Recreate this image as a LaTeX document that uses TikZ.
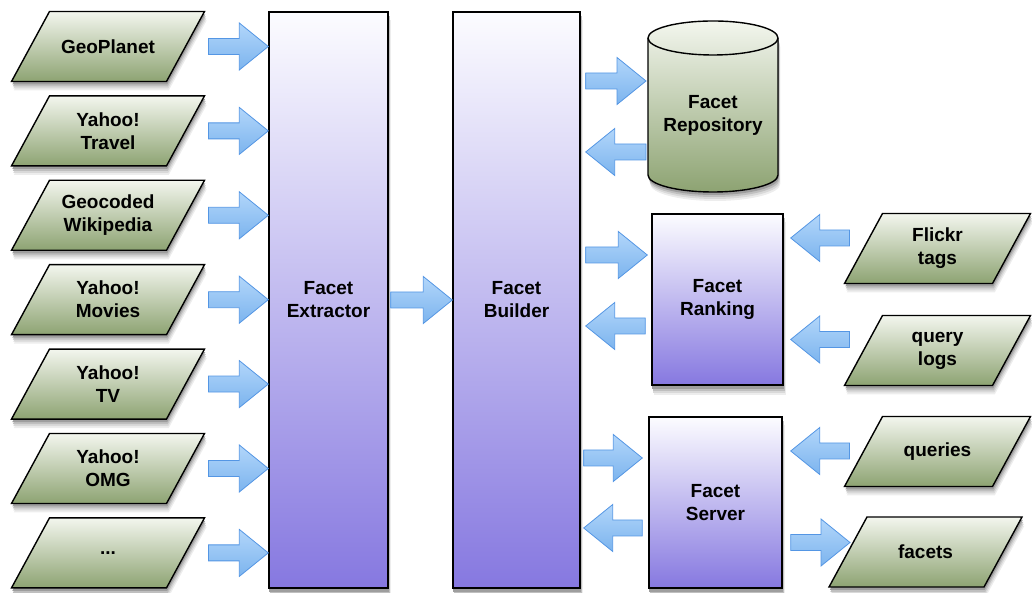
\documentclass[tikz,border=0pt]{standalone}
\usepackage{fontspec}
\setmainfont{Liberation Sans}
\usetikzlibrary{calc,backgrounds}
\pgfdeclarelayer{shade}
\pgfsetlayers{shade,background,main}

\definecolor{srctop}{RGB}{243,246,238}
\definecolor{srcbot}{RGB}{141,163,114}
\definecolor{boxtop}{RGB}{252,252,255}
\definecolor{boxbot}{RGB}{134,120,224}
\definecolor{arrtop}{RGB}{178,214,250}
\definecolor{arrbot}{RGB}{124,180,238}
\definecolor{arrline}{RGB}{84,150,228}
\definecolor{shadeA}{gray}{0.93}
\definecolor{shadeB}{gray}{0.85}
\definecolor{shadeC}{gray}{0.75}
\definecolor{shadeD}{gray}{0.62}

% parallelogram round a source node
\newcommand\slabpath[1]{($(#1.south west)+(-19,0)$) -- ($(#1.north west)+(19,0)$)
  -- ($(#1.north east)+(19,0)$) -- ($(#1.south east)+(-19,0)$) -- cycle}
% outline of the repository drum
\newcommand\drumpath[1]{(#1.north west) -- ($(#1.south west)+(0,17)$)
  arc[start angle=180, end angle=360, x radius=65, y radius=17]
  -- (#1.north east) arc[start angle=0, end angle=180, x radius=65, y radius=17] -- cycle}

\tikzset{
  txt/.style={font=\fontsize{19}{23}\selectfont\bfseries, align=center, text=black},
  source/.style={txt, minimum width=#1, minimum height=70pt, inner sep=0pt, outer sep=0pt},
  source/.default=155pt,
  slab/.style={draw=black, line width=1.4pt, top color=srctop, bottom color=srcbot},
  stage/.style={txt, draw=black, line width=1.4pt, top color=boxtop, bottom color=boxbot},
  store/.style={draw=black, line width=1.4pt, top color=srctop, bottom color=srcbot},
  fat arrow/.style={draw=arrline, line width=0.8pt, line join=miter, top color=arrtop, bottom color=arrbot,
    to path={let \p1=(\tikztostart), \p2=(\tikztotarget),
      \n1={\x2-29pt*(\x2>\x1)+29pt*(\x2<\x1)} in
      (\x1,\y1+8pt) -- (\n1,\y1+8pt) -- (\n1,\y1+23.5pt) -- (\x2,\y1)
      -- (\n1,\y1-23.5pt) -- (\n1,\y1-8pt) -- (\x1,\y1-8pt) -- cycle}}
}

\begin{document}
\begin{tikzpicture}[x=1pt, y=1pt]
        \useasboundingbox (0,0) rectangle (1032,593);
        % data sources on the left
        \node[source] (geo) at (108,546.5) {GeoPlanet};
        \node[source] (travel) at (108,462.1) {Yahoo!\\Travel};
        \node[source] (wiki) at (108,377.7) {Geocoded\\Wikipedia};
        \node[source] (movies) at (108,293.3) {Yahoo!\\Movies};
        \node[source] (tv) at (108,208.9) {Yahoo!\\TV};
        \node[source] (omg) at (108,124.5) {Yahoo!\\OMG};
        \node[source] (more) at (108,40.1) {...};
        % processing stages
        \node[stage, minimum width=119pt, minimum height=576pt] (extractor) at (328.5,293) {Facet\\Extractor};
        \node[stage, minimum width=127pt, minimum height=576pt] (builder) at (516.5,293) {Facet\\Builder};
        \node[txt, minimum width=130pt, minimum height=154pt, inner sep=0pt, outer sep=0pt] (repo) at (713,478) {Facet\\Repository};
        \node[stage, minimum width=131pt, minimum height=171pt] (ranking) at (717.5,293.5) {Facet\\Ranking};
        \node[stage, minimum width=133pt, minimum height=171pt] (server) at (715.5,90.5) {Facet\\Server};
        % inputs and outputs on the right
        \node[source=148pt] (flickr) at (937.5,344.5) {Flickr\\tags};
        \node[source=148pt] (logs) at (937.5,242.5) {query\\logs};
        \node[source=148pt] (queries) at (937.5,141.5) {queries};
        \node[source] (facets) at (925.5,41) {facets};
        % soft shadows
        \begin{pgfonlayer}{shade}
        \foreach \dd/\cc in {9/shadeA,7/shadeB,5/shadeC,3/shadeD} {
          \foreach \n in {extractor,builder,ranking,server}
            \fill[fill=\cc] ([shift={(\dd/4,-\dd)}]\n.south west) rectangle ([shift={(\dd/4,-\dd)}]\n.north east);
          \foreach \s in {geo,travel,wiki,movies,tv,omg,more,flickr,logs,queries,facets}
            \fill[fill=\cc, transform canvas={shift={(\dd/4,-\dd)}}] \slabpath{\s};
          \fill[fill=\cc, transform canvas={shift={(\dd/4,-\dd)}}] \drumpath{repo};
        }
        \end{pgfonlayer}
        % shapes behind the texts
        \begin{scope}[on background layer]
        \foreach \s in {geo,travel,wiki,movies,tv,omg,more,flickr,logs,queries,facets}
          \path[slab] \slabpath{\s};
        \path[store] \drumpath{repo};
        \draw[line width=1.4pt] (repo.north west) arc[start angle=180, end angle=360, x radius=65, y radius=17];
        \end{scope}
        % arrows
        \draw[fat arrow] ([xshift=23pt]geo.east) to (extractor.west);
        \draw[fat arrow] ([xshift=23pt]travel.east) to (extractor.west);
        \draw[fat arrow] ([xshift=23pt]wiki.east) to (extractor.west);
        \draw[fat arrow] ([xshift=23pt]movies.east) to (extractor.west);
        \draw[fat arrow] ([xshift=23pt]tv.east) to (extractor.west);
        \draw[fat arrow] ([xshift=23pt]omg.east) to (extractor.west);
        \draw[fat arrow] ([xshift=23pt]more.east) to (extractor.west);
        \draw[fat arrow] ([xshift=2pt]extractor.east) to (builder.west);
        \draw[fat arrow] ($(builder.east |- repo)+(5,34)$) to ([xshift=-2pt]repo.west);
        \draw[fat arrow] ($(repo.west)+(-2,-37)$) to ([xshift=5pt]builder.east);
        \draw[fat arrow] ($(builder.east |- ranking)+(5,44.5)$) to ([xshift=-4pt]ranking.west);
        \draw[fat arrow] ($(ranking.west)+(-6,-26.5)$) to ([xshift=5pt]builder.east);
        \draw[fat arrow] ($(flickr.west)+(-14,10.5)$) to ([xshift=7pt]ranking.east);
        \draw[fat arrow] ($(logs.west)+(-14,11)$) to ([xshift=7pt]ranking.east);
        \draw[fat arrow] ($(builder.east |- server)+(3,44.5)$) to ([xshift=-6pt]server.west);
        \draw[fat arrow] ($(server.west)+(-6,-25.5)$) to ([xshift=3pt]builder.east);
        \draw[fat arrow] ($(queries.west)+(-14,0.5)$) to ([xshift=8pt]server.east);
        \draw[fat arrow] ($(server.east |- facets)+(8,9.5)$) to ([xshift=2pt]facets.west);
\end{tikzpicture}
\end{document}
